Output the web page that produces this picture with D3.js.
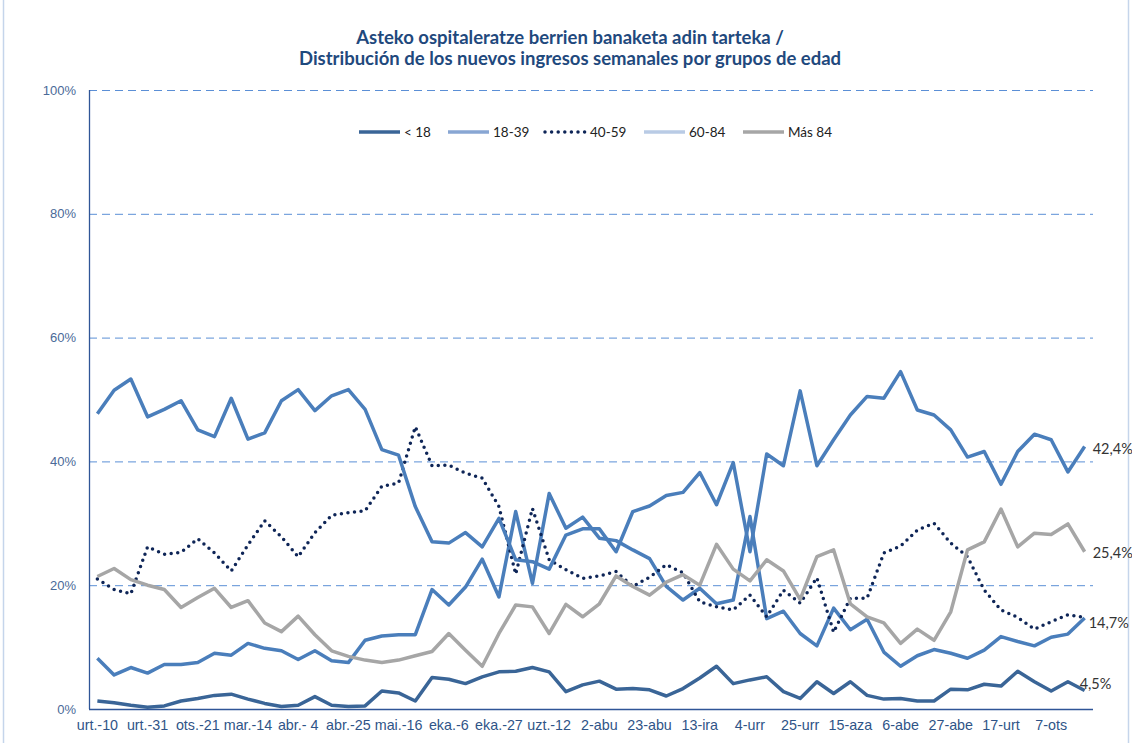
<!DOCTYPE html>
<html>
<head>
<meta charset="utf-8">
<script src="https://cdnjs.cloudflare.com/ajax/libs/d3/7.8.5/d3.min.js"></script>
<style>
	body { margin: 0; background: #fff; }
	svg { display: block; font-family: Lato, "Open Sans", sans-serif; }
	.title { font-weight: bold; fill: #1F497D; font-size: 18.5px; }
	.grid line { stroke: #5B8FD6; stroke-dasharray: 8,5; stroke-width: 1; }
	.axis-y text { fill: #4A6A98; font-size: 13px; }
	.axis-x text { fill: #2F5487; font-size: 14.3px; }
	.legend text { fill: #222; font-size: 13.5px; }
	.end-label { fill: #333; font-size: 14.5px; }
	.series { fill: none; stroke-width: 3.5; stroke-linejoin: round; }
</style>
</head>
<body>
<svg width="1132" height="743"></svg>
<script>
var weeks = [
	"urt.-10","urt.-17","urt.-24","urt.-31","ots.-7","ots.-14","ots.-21","ots.-28","mar.-7","mar.-14",
	"mar.-21","mar.-28","abr.- 4","abr.-11","abr.-18","abr.-25","mai.-2","mai.-9","mai.-16","mai.-23",
	"mai.-30","eka.-6","eka.-13","eka.-20","eka.-27","uzt.-4","uzt.-5","uzt.-12","19-uzt","26-uzt",
	"2-abu","9-abu","16-abu","23-abu","30-abu","6-ira","13-ira","20-ira","27-ira","4-urr",
	"11-urr","18-urr","25-urr","1-aza","8-aza","15-aza","22-aza","29-aza","6-abe","13-abe",
	"20-abe","27-abe","3-urt","10-urt","17-urt","24-urt","31-urt","7-ots","14-ots","21-ots"
]
var tickLabels = ["urt.-10","urt.-31","ots.-21","mar.-14","abr.- 4","abr.-25","mai.-16","eka.-6","eka.-27","uzt.-12",
	"2-abu","23-abu","13-ira","4-urr","25-urr","15-aza","6-abe","27-abe","17-urt","7-ots"]
var yTicks = [0, 20, 40, 60, 80, 100]

var under18 = [1.3,1.0,0.6,0.3,0.5,1.3,1.7,2.2,2.4,1.6,0.9,0.4,
	0.6,2.0,0.6,0.4,0.5,2.9,2.6,1.3,5.1,4.8,4.1,5.2,
	6.0,6.1,6.7,6.0,2.8,3.9,4.5,3.2,3.3,3.1,2.1,3.3,
	5.0,6.9,4.1,4.7,5.2,2.8,1.7,4.4,2.5,4.4,2.2,1.6,
	1.7,1.3,1.3,3.2,3.1,4.0,3.7,6.1,4.4,2.9,4.4,3.0]
var age18_39 = [8.2,5.5,6.7,5.8,7.2,7.2,7.5,9.0,8.7,10.6,9.8,9.4,
	8.0,9.4,7.8,7.5,11.1,11.8,12.0,12.0,19.3,16.8,19.7,24.2,
	18.1,31.9,20.3,34.8,29.2,31.0,27.6,27.2,25.7,24.3,19.8,17.6,
	19.5,17.0,17.6,31.1,14.6,15.8,12.2,10.2,16.3,12.8,14.5,9.2,
	6.9,8.6,9.6,9.0,8.2,9.5,11.7,10.9,10.2,11.6,12.1,14.7]
var age40_59 = [21.0,19.3,18.6,26.2,25.0,25.3,27.5,25.2,22.3,26.5,30.4,27.8,
	24.6,28.5,31.3,31.7,32.0,36.0,36.5,45.6,39.3,39.4,38.1,37.3,
	32.7,21.8,32.4,24.1,22.5,21.1,21.5,22.2,19.8,21.3,23.3,22.0,
	17.3,16.5,16.0,18.4,14.9,19.2,17.1,21.2,12.4,17.9,17.9,25.2,
	26.3,28.9,30.0,26.8,24.6,19.2,16.0,14.8,12.9,14.1,15.2,14.8]
var age60_84 = [47.7,51.5,53.3,47.2,48.4,49.8,45.1,44.0,50.2,43.6,44.6,49.8,
	51.6,48.2,50.6,51.6,48.4,41.9,41.0,32.7,27.0,26.8,28.5,26.2,
	30.8,24.1,23.8,22.6,28.1,29.1,29.1,25.4,31.9,32.8,34.5,35.0,
	38.2,33.0,39.8,25.4,41.2,39.3,51.4,39.3,43.5,47.5,50.5,50.2,
	54.5,48.3,47.5,45.1,40.7,41.6,36.3,41.6,44.4,43.5,38.3,42.4]
var over84 = [21.4,22.7,20.9,20.0,19.3,16.4,18.0,19.5,16.4,17.5,13.9,12.5,
	15.0,12.0,9.4,8.5,7.9,7.5,7.9,8.6,9.3,12.2,9.5,6.9,
	12.2,16.8,16.5,12.2,16.9,14.9,17.0,21.5,19.8,18.4,20.5,21.7,
	20.0,26.6,22.6,20.7,24.1,22.3,17.7,24.6,25.7,17.0,14.9,13.9,
	10.6,12.9,11.1,15.7,25.7,27.0,32.3,26.2,28.4,28.2,29.9,25.4]

var seriesNames = ["< 18", "18-39", "40-59", "60-84", "Más 84"]
var endLabels = ["4,5%", "14,7%", null, "42,4%", "25,4%"]

var svg = d3.select("svg")
var plotLeft = 89, plotRight = 1093, plotTop = 90, plotBottom = 709

var series = [under18, age18_39, age40_59, age60_84, over84].map(function(v, i){
	return { name: seriesNames[i], values: v, label: endLabels[i] }
})
var lineColor   = ["#3A6597", "#4A7EBB", "#0E2557", "#4A7EBB", "#A6A6A6"]
var swatchColor = ["#3A6597", "#88A6D3", "#0E2557", "#B9CBE5", "#A6A6A6"]
var labelOffset = [[-5, -7], [4, 5], [0, 0], [8, 2], [8, 1]]

var x = d3.scaleBand().domain(weeks).range([plotLeft, plotRight])
var y = d3.scaleLinear().domain([0, 100]).range([plotBottom, plotTop])

// frame of the chart
svg.append("line").attr("x1", 3.5).attr("x2", 3.5).attr("y1", 0).attr("y2", 743)
	.attr("stroke", "#C5D5EB").attr("stroke-width", 1.5)
svg.append("line").attr("x1", 1128.5).attr("x2", 1128.5).attr("y1", 0).attr("y2", 743)
	.attr("stroke", "#C5D5EB").attr("stroke-width", 1.5)

// title
svg.append("text").attr("class", "title").attr("x", 570).attr("y", 44)
	.attr("text-anchor", "middle").text("Asteko ospitaleratze berrien banaketa adin tarteka /")
svg.append("text").attr("class", "title").attr("x", 570).attr("y", 65)
	.attr("text-anchor", "middle").text("Distribución de los nuevos ingresos semanales por grupos de edad")

// grid
svg.append("g").attr("class", "grid")
	.selectAll("line")
		.data(yTicks.filter(function(d){ return d > 0 }))
	.enter().append("line")
		.attr("x1", plotLeft).attr("x2", plotRight)
		.attr("y1", function(d){ return y(d) + 0.5 })
		.attr("y2", function(d){ return y(d) + 0.5 })

// axes
var yAxis = svg.append("g").attr("class", "axis-y")
	.attr("transform", "translate(" + plotLeft + ",0)")
	.call(d3.axisLeft(y).tickValues(yTicks).tickSize(0).tickPadding(13)
		.tickFormat(function(d){ return d + "%" }))
yAxis.select(".domain").remove()

var xAxis = svg.append("g").attr("class", "axis-x")
	.attr("transform", "translate(0," + plotBottom + ")")
	.call(d3.axisBottom(x).tickValues(tickLabels).tickSize(0).tickPadding(11))
xAxis.select(".domain").remove()

svg.append("line").attr("x1", plotLeft + 0.5).attr("x2", plotLeft + 0.5).attr("y1", plotTop).attr("y2", plotBottom)
	.attr("stroke", "#2F5597").attr("stroke-width", 1.3)
svg.append("line").attr("x1", plotLeft).attr("x2", plotRight).attr("y1", plotBottom + 0.5).attr("y2", plotBottom + 0.5)
	.attr("stroke", "#2F5597").attr("stroke-width", 1.3)

// lines
var line = d3.line()
	.x(function(d, i){ return x(weeks[i]) + x.bandwidth() / 2 })
	.y(function(d){ return y(d) })

svg.selectAll(".series")
		.data(series)
	.enter().append("path")
		.attr("class", "series")
		.attr("d", function(d){ return line(d.values) })
		.attr("stroke", function(d, i){ return lineColor[i] })
		.attr("stroke-dasharray", function(d, i){ return i == 2 ? "0,6.6" : null })
		.attr("stroke-linecap", function(d, i){ return i == 2 ? "round" : "butt" })

// end labels
svg.selectAll(".end-label")
		.data(series.filter(function(d){ return d.label }))
	.enter().append("text")
		.attr("class", "end-label")
		.attr("x", function(d){ var i = seriesNames.indexOf(d.name); return x(weeks[weeks.length - 1]) + x.bandwidth() / 2 + labelOffset[i][0] })
		.attr("y", function(d){ var i = seriesNames.indexOf(d.name); return y(d.values[d.values.length - 1]) + labelOffset[i][1] })
		.attr("dy", "0.35em")
		.text(function(d){ return d.label })

// legend
var legendX = [359, 448, 545, 644, 743]
var legend = svg.append("g").attr("class", "legend")
var item = legend.selectAll("g")
		.data(series)
	.enter().append("g")
		.attr("transform", function(d, i){ return "translate(" + legendX[i] + ",132)" })
item.append("line")
	.attr("x1", 0).attr("x2", 41)
	.attr("stroke", function(d, i){ return swatchColor[i] })
	.attr("stroke-width", 3.5)
	.attr("stroke-dasharray", function(d, i){ return i == 2 ? "0,6.6" : null })
	.attr("stroke-linecap", function(d, i){ return i == 2 ? "round" : "butt" })
item.append("text")
	.attr("x", 45).attr("dy", "0.35em")
	.text(function(d){ return d.name })
</script>
</body>
</html>
